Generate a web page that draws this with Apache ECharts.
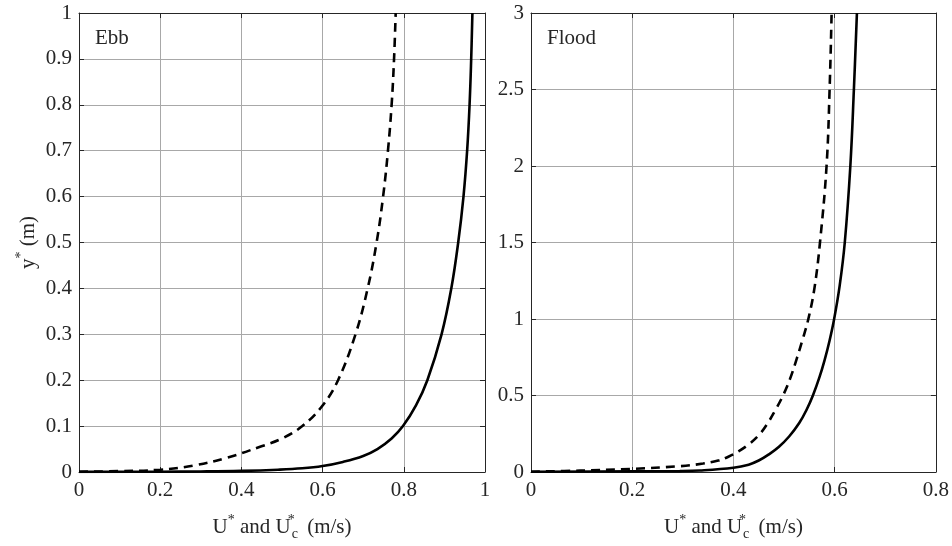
<!DOCTYPE html>
<html><head><meta charset="utf-8">
<script src="https://cdn.jsdelivr.net/npm/echarts@6/dist/echarts.min.js"></script>
<style>html,body{margin:0;padding:0;background:#fff}#c{width:952px;height:546px}</style>
</head><body><div id="c"></div>
<script>
// Panel labels
const panelNames = ['Ebb', 'Flood'];
// Tick labels
const ebbXTicks = ['0', '0.2', '0.4', '0.6', '0.8', '1'];
const ebbYTicks = ['0', '0.1', '0.2', '0.3', '0.4', '0.5', '0.6', '0.7', '0.8', '0.9', '1'];
const floodXTicks = ['0', '0.2', '0.4', '0.6', '0.8'];
const floodYTicks = ['0', '0.5', '1', '1.5', '2', '2.5', '3'];
// Ebb: solid curve  [U (m/s), y* (m)]
const ebbSolid = [[0,0.0002],[0.2,0.0006],[0.3,0.0012],[0.4,0.0025],[0.49,0.005],[0.55,0.008],[0.6,0.013],[0.65,0.022],[0.7,0.035],[0.735,0.05],[0.77,0.073],[0.798,0.1],[0.83,0.145],[0.858,0.2],[0.893,0.3],[0.917,0.4],[0.934,0.5],[0.947,0.6],[0.956,0.7],[0.962,0.8],[0.966,0.9],[0.969,1.0]];
// Ebb: dashed curve
const ebbDashed = [[0,0.0005],[0.1,0.002],[0.2,0.005],[0.282,0.014],[0.364,0.031],[0.446,0.055],[0.5,0.073],[0.55,0.1],[0.6,0.145],[0.638,0.2],[0.681,0.3],[0.711,0.4],[0.733,0.5],[0.749,0.6],[0.761,0.7],[0.77,0.8],[0.776,0.9],[0.78,1.0]];
// Flood: solid curve
const floodSolid = [[0,0.002],[0.2,0.004],[0.294,0.006],[0.334,0.01],[0.4,0.028],[0.43,0.048],[0.45,0.075],[0.47,0.115],[0.49,0.165],[0.51,0.232],[0.53,0.32],[0.545,0.41],[0.557,0.5],[0.57,0.62],[0.58,0.73],[0.59,0.86],[0.599,1.0],[0.61,1.22],[0.62,1.5],[0.631,2.0],[0.638,2.5],[0.644,3.0]];
// Flood: dashed curve
const floodDashed = [[0,0.002],[0.097,0.009],[0.196,0.02],[0.294,0.038],[0.34,0.055],[0.37,0.075],[0.39,0.1],[0.41,0.135],[0.43,0.18],[0.45,0.24],[0.466,0.31],[0.482,0.4],[0.498,0.5],[0.512,0.61],[0.525,0.74],[0.537,0.87],[0.548,1.0],[0.56,1.2],[0.571,1.5],[0.584,2.0],[0.59,2.5],[0.594,3.0]];

const FONT = 'Liberation Serif';
const TXT = '#262626';
const GRIDC = '#a8a8a8';
const FS = 21;

const xName = '{n|U}{sup|*}{n| and U}{sups|*}{sub|c}{n| (m/s)}';
const richName = {
  n: {fontSize: FS, fontFamily: FONT, color: TXT, verticalAlign: 'middle'},
  sup: {fontSize: 14, fontFamily: FONT, color: TXT, verticalAlign: 'middle', padding: [0, 0, 14, 0]},
  sups: {fontSize: 14, fontFamily: FONT, color: TXT, verticalAlign: 'middle', padding: [0, 0, 14, 0], width: 1},
  sub: {fontSize: 14, fontFamily: FONT, color: TXT, verticalAlign: 'middle', padding: [14, 4, 0, 0]}
};

function mainX(max, labels, gi) {
  return {
    type: 'value', gridIndex: gi, min: 0, max: max, interval: 0.2, position: 'bottom',
    axisLine: {show: true, onZero: false, lineStyle: {color: TXT, width: 1}},
    axisTick: {show: true, inside: true, length: 5, lineStyle: {color: TXT}},
    axisLabel: {fontSize: FS, fontFamily: FONT, color: TXT, margin: 8, formatter: (v, i) => labels[i]},
    splitLine: {show: true, lineStyle: {color: GRIDC, width: 1}},
    name: xName, nameLocation: 'middle', nameGap: 41, nameTextStyle: {rich: richName}
  };
}
function boxX(max, gi) {
  return {
    type: 'value', gridIndex: gi, min: 0, max: max, interval: 0.2, position: 'top',
    axisLine: {show: true, onZero: false, lineStyle: {color: TXT, width: 1}},
    axisTick: {show: true, inside: true, length: 5, lineStyle: {color: TXT}},
    axisLabel: {show: false}, splitLine: {show: false}
  };
}
function mainY(max, step, labels, gi, name) {
  const o = {
    type: 'value', gridIndex: gi, min: 0, max: max, interval: step, position: 'left',
    axisLine: {show: true, onZero: false, lineStyle: {color: TXT, width: 1}},
    axisTick: {show: true, inside: true, length: 5, lineStyle: {color: TXT}},
    axisLabel: {fontSize: FS, fontFamily: FONT, color: TXT, margin: 7, formatter: (v, i) => labels[i]},
    splitLine: {show: true, lineStyle: {color: GRIDC, width: 1}}
  };
  if (name) {
    o.name = name; o.nameLocation = 'middle'; o.nameGap = 37; o.nameRotate = 90;
    o.nameTextStyle = {rich: richName};
  }
  return o;
}
function boxY(max, step, gi) {
  return {
    type: 'value', gridIndex: gi, min: 0, max: max, interval: step, position: 'right',
    axisLine: {show: true, onZero: false, lineStyle: {color: TXT, width: 1}},
    axisTick: {show: true, inside: true, length: 5, lineStyle: {color: TXT}},
    axisLabel: {show: false}, splitLine: {show: false}
  };
}
function line(data, xi, yi, dashed) {
  return {
    type: 'line', xAxisIndex: xi, yAxisIndex: yi, data: data, showSymbol: false, symbol: 'none',
    smooth: 0.4, clip: true, animation: false,
    lineStyle: {color: '#000', width: 2.6, type: dashed ? [9, 6] : 'solid'}
  };
}

const chart = echarts.init(document.getElementById('c'));
chart.setOption({
  animation: false,
  backgroundColor: '#fff',
  grid: [
    {left: 79, top: 13, width: 406, height: 460},
    {left: 531, top: 13, width: 405, height: 460}
  ],
  xAxis: [mainX(1, ebbXTicks, 0), boxX(1, 0), mainX(0.8, floodXTicks, 1), boxX(0.8, 1)],
  yAxis: [mainY(1, 0.1, ebbYTicks, 0, '{n|y}{sup|*}{n| (m)}'), boxY(1, 0.1, 0), mainY(3, 0.5, floodYTicks, 1, null), boxY(3, 0.5, 1)],
  series: [
    line(ebbDashed, 0, 0, true),
    line(ebbSolid, 0, 0, false),
    line(floodDashed, 2, 2, true),
    line(floodSolid, 2, 2, false)
  ],
  graphic: [
    {type: 'text', left: 95, top: 28, style: {text: panelNames[0], fontSize: FS, fontFamily: FONT, fill: TXT}},
    {type: 'text', left: 547, top: 28, style: {text: panelNames[1], fontSize: FS, fontFamily: FONT, fill: TXT}}
  ]
});
</script></body></html>
